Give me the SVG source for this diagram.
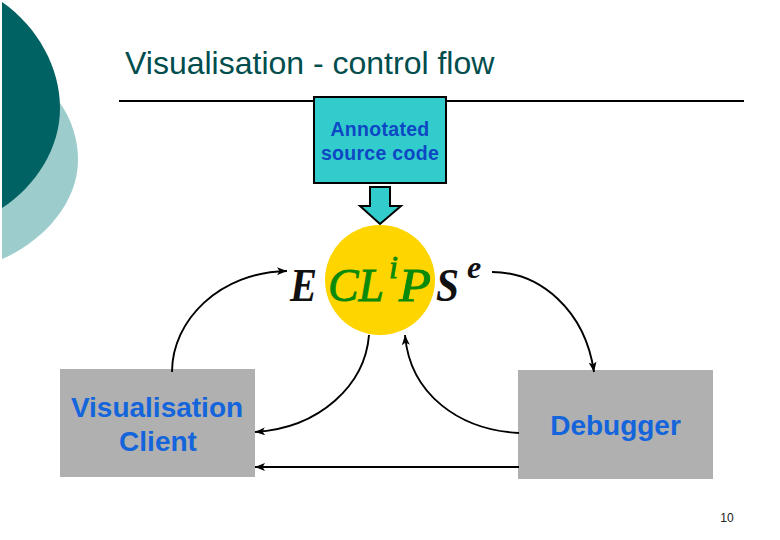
<svg xmlns="http://www.w3.org/2000/svg" width="780" height="540" viewBox="0 0 780 540">
<style>
.c{fill:none;stroke:#000;stroke-width:1.9}
.s{font-family:"Liberation Sans",Arial,sans-serif}
.b{font-weight:bold;text-anchor:middle}
.e{font-family:"Liberation Serif","Times New Roman",serif;font-style:italic;font-size:47px}
.k{font-weight:bold;fill:#111}
.g{fill:#0a8a0a;stroke:#0a8a0a;stroke-width:.9}
</style>
<defs>
<marker id="a" markerUnits="userSpaceOnUse" markerWidth="11" markerHeight="8" refX="10" refY="4" orient="auto"><path d="M0 0L10 4L0 8L2.5 4Z" fill="#000"/></marker>
</defs>
<rect width="780" height="540" fill="#fff"/>
<g id="decor">
<path d="M2 60L60 103C72 120 78 140 78 160C78 205 40 243 2 259Z" fill="#9ccccc"/>
<path d="M2 2C38 27 60 68 60 108C60 148 36 186 2 208Z" fill="#006262"/>
</g>
<g id="title">
<text class="s" x="125" y="74" font-size="32" fill="#004d4d">Visualisation - control flow</text>
<path d="M119 101H744" stroke="#000" stroke-width="2"/>
</g>
<g id="source">
<rect x="314" y="97" width="132" height="86" fill="#33cccc" stroke="#000" stroke-width="2"/>
<text class="s b" font-size="19.5" fill="#0d47c4" letter-spacing=".3"><tspan x="380" y="136">Annotated</tspan><tspan x="380" y="160">source code</tspan></text>
</g>
<g id="down-arrow"><path d="M370 187H390V206H401L380 224L360 206H370Z" fill="#33cccc" stroke="#000" stroke-width="2"/></g>
<g id="eclipse">
<circle cx="380" cy="280" r="55" fill="#ffd500"/>
<text class="e k" x="290" y="301" textLength="27" lengthAdjust="spacingAndGlyphs">E</text>
<text class="e g" x="328" y="301" textLength="56" lengthAdjust="spacingAndGlyphs">CL</text>
<text class="e g" x="389" y="278" style="font-size:32px">i</text>
<text class="e g" x="399" y="301" textLength="32" lengthAdjust="spacingAndGlyphs">P</text>
<text class="e k" x="436" y="301" textLength="23" lengthAdjust="spacingAndGlyphs">S</text>
<text class="e k" x="467" y="278" style="font-size:32px">e</text>
</g>
<g id="client">
<rect x="60" y="369" width="195" height="108" fill="#b0b0b0"/>
<text class="s b" font-size="28" fill="#1464dc"><tspan x="157" y="417">Visualisation</tspan><tspan x="158" y="451">Client</tspan></text>
</g>
<g id="debugger">
<rect x="518" y="370" width="195" height="109" fill="#b0b0b0"/>
<text class="s b" font-size="28" fill="#1464dc" x="615.500" y="435">Debugger</text>
</g>
<g id="connectors">
<path class="c" d="M172 372C172 320 220 272 287 271" marker-end="url(#a)"/>
<path class="c" d="M492 272C540 272 585 310 594 372" marker-end="url(#a)"/>
<path class="c" d="M369 335C365 385 320 428 255 432" marker-end="url(#a)"/>
<path class="c" d="M519 433C460 430 410 395 405 335" marker-end="url(#a)"/>
<path class="c" d="M519 467H255" marker-end="url(#a)"/>
</g>
<g id="page"><text class="s" x="727" y="522" font-size="12" text-anchor="middle" fill="#222">10</text></g>
</svg>
